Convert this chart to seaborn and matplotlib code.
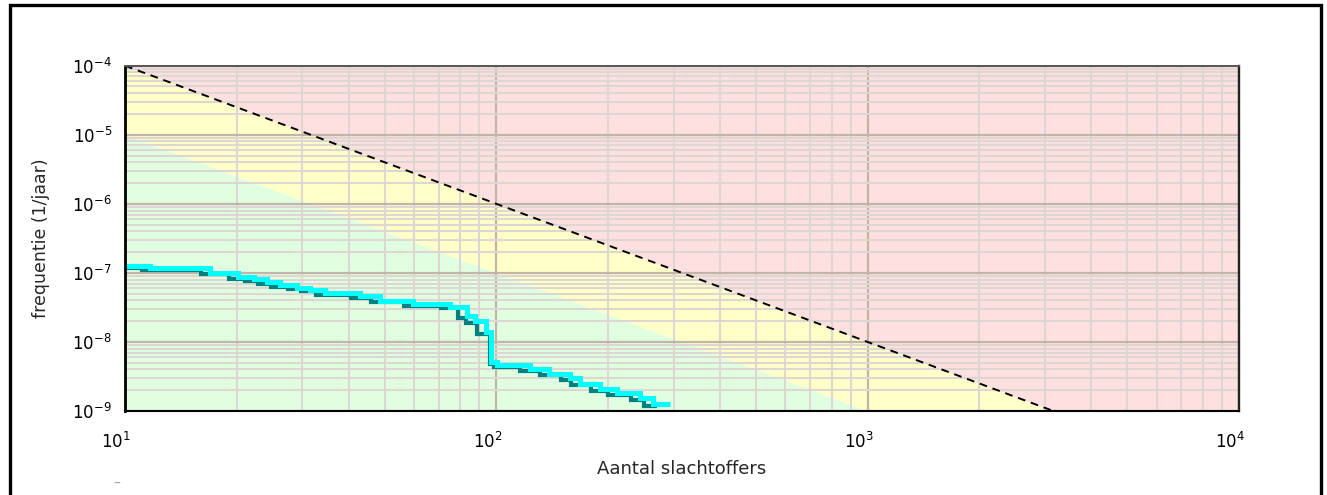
import matplotlib
matplotlib.use("Agg")
import matplotlib.pyplot as plt
import matplotlib.transforms as mtransforms
from matplotlib.patches import Rectangle
from matplotlib.ticker import FixedLocator, LogLocator, LogFormatterSciNotation, NullFormatter
import seaborn as sns

# ---------------- data ----------------
# FN-curve (cyan)
fn_N = [10, 11.7, 16.9, 20.2, 22.2, 24.1, 26.1, 29.0, 31.5, 34.6, 42.9, 48.6, 59.6,
        74.9, 83.3, 87.5, 93.7, 97.0, 100.3, 123, 139, 158, 168, 190, 211, 243, 264, 293]
fn_F = [1.24e-7, 1.17e-7, 1.01e-7, 8.6e-8, 8.1e-8, 7.3e-8, 6.6e-8, 6.1e-8, 5.7e-8,
        5.1e-8, 4.55e-8, 3.94e-8, 3.54e-8, 3.2e-8, 2.34e-8, 2.01e-8, 1.39e-8, 5.04e-9,
        4.63e-9, 4.02e-9, 3.44e-9, 3.0e-9, 2.5e-9, 2.08e-9, 1.82e-9, 1.54e-9, 1.26e-9, 1.26e-9]
# second FN-curve (dark teal, mostly hidden under the cyan one)
fn2_N = [10, 11.1, 16.0, 19.1, 21.0, 22.8, 24.7, 27.4, 29.8, 32.7, 40.6, 46.0, 56.4,
         70.9, 78.8, 82.8, 88.6, 96.0, 98.5, 116, 131, 149, 159, 180, 200, 230, 250, 270]
fn2_F = [1.18e-7, 1.11e-7, 9.6e-8, 8.2e-8, 7.7e-8, 6.9e-8, 6.3e-8, 5.8e-8, 5.4e-8,
         4.85e-8, 4.3e-8, 3.75e-8, 3.35e-8, 3.05e-8, 2.22e-8, 1.9e-8, 1.32e-8, 4.8e-9,
         4.4e-9, 3.8e-9, 3.27e-9, 2.85e-9, 2.38e-9, 1.98e-9, 1.73e-9, 1.46e-9, 1.2e-9, 1.2e-9]
# norm lines
limit_N = [10, 10000]
upper_F = [1e-4, 1e-10]   # orientatiewaarde (dashed)
lower_F = [1e-5, 1e-11]   # green / yellow boundary
floor_F = [1e-12, 1e-12]
ceil_F = [1e-3, 1e-3]

x_ticks = [10, 100, 1000, 10000]
y_ticks = [1e-9, 1e-8, 1e-7, 1e-6, 1e-5, 1e-4]
x_label = "Aantal slachtoffers"
y_label = "frequentie (1/jaar)"

# ---------------- style ----------------
sns.set_style("white")
plt.rcParams["font.family"] = ["DejaVu Sans"]

W, H, DPI = 1327, 495, 100
fig = plt.figure(figsize=(W / DPI, H / DPI), dpi=DPI)
ax = fig.add_axes([125 / W, 1 - 411 / H, (1239 - 125) / W, (411 - 65.7) / H])
ax.set_xscale("log")
ax.set_yscale("log")

# coloured zones
ax.fill_between(limit_N, floor_F, lower_F, color="#E0FFE0", lw=0, zorder=0.1)
ax.fill_between(limit_N, lower_F, upper_F, color="#FFFFC8", lw=0, zorder=0.1)
ax.fill_between(limit_N, upper_F, ceil_F, color="#FFE0E0", lw=0, zorder=0.1)

# dashed upper limit line
sns.lineplot(x=limit_N, y=upper_F, color="black", lw=1.4, linestyle=(0, (4, 3)),
             ax=ax, zorder=3, estimator=None, sort=False)

# FN curves
sns.lineplot(x=fn2_N, y=fn2_F, drawstyle="steps-post", color="#008080", lw=3.0,
             ax=ax, zorder=4, estimator=None, sort=False,
             solid_capstyle="butt", solid_joinstyle="miter")
sns.lineplot(x=fn_N, y=fn_F, drawstyle="steps-post", color="#00FFFF", lw=3.6,
             ax=ax, zorder=5, estimator=None, sort=False,
             solid_capstyle="butt", solid_joinstyle="miter")

ax.set_xlim(10, 10000)
ax.set_ylim(1e-9, 1e-4)

# ticks / grid
ax.xaxis.set_major_locator(FixedLocator(x_ticks))
ax.yaxis.set_major_locator(FixedLocator(y_ticks))
ax.xaxis.set_major_formatter(LogFormatterSciNotation())
ax.yaxis.set_major_formatter(LogFormatterSciNotation())
ax.xaxis.set_minor_locator(LogLocator(base=10, subs=range(2, 10), numticks=20))
ax.yaxis.set_minor_locator(LogLocator(base=10, subs=range(2, 10), numticks=20))
ax.xaxis.set_minor_formatter(NullFormatter())
ax.yaxis.set_minor_formatter(NullFormatter())
ax.set_axisbelow(True)
ax.grid(which="minor", color="#DDD6D2", lw=1.5, zorder=0.5)
ax.grid(which="major", color="#C2B4A8", lw=1.6, zorder=0.6)

ax.tick_params(axis="x", which="both", length=0, pad=15, labelsize=12, colors="black")
ax.tick_params(axis="y", which="major", length=8.6, width=1.1, color="#A8A8A8",
               pad=0.8, labelsize=12, labelcolor="black")
ax.tick_params(axis="y", which="minor", length=0)

offset = mtransforms.ScaledTranslation(-9 / DPI, 0, fig.dpi_scale_trans)
for lab in ax.get_xticklabels():
    lab.set_transform(lab.get_transform() + offset)

ax.set_xlabel(x_label, fontsize=13, labelpad=6)
ax.set_ylabel(y_label, fontsize=12.5, labelpad=16)

for side, lw, col in [("left", 2.0, "black"), ("bottom", 1.5, "black"),
                      ("top", 1.4, "#555555"), ("right", 1.7, "#222222")]:
    ax.spines[side].set_visible(True)
    ax.spines[side].set_linewidth(lw)
    ax.spines[side].set_color(col)
    ax.spines[side].set_zorder(6)

# outer frame
fig.add_artist(Rectangle((10 / W, -0.1), (1321 - 10) / W, 1.1 - 5 / H,
                         transform=fig.transFigure, fill=False, edgecolor="black",
                         lw=2.4, clip_on=False))
fig.text(117 / W, 1 - 484 / H, "\u2013", color="#A0A0A0", fontsize=10,
         ha="center", va="center")

fig.savefig("out.png", dpi=DPI)
